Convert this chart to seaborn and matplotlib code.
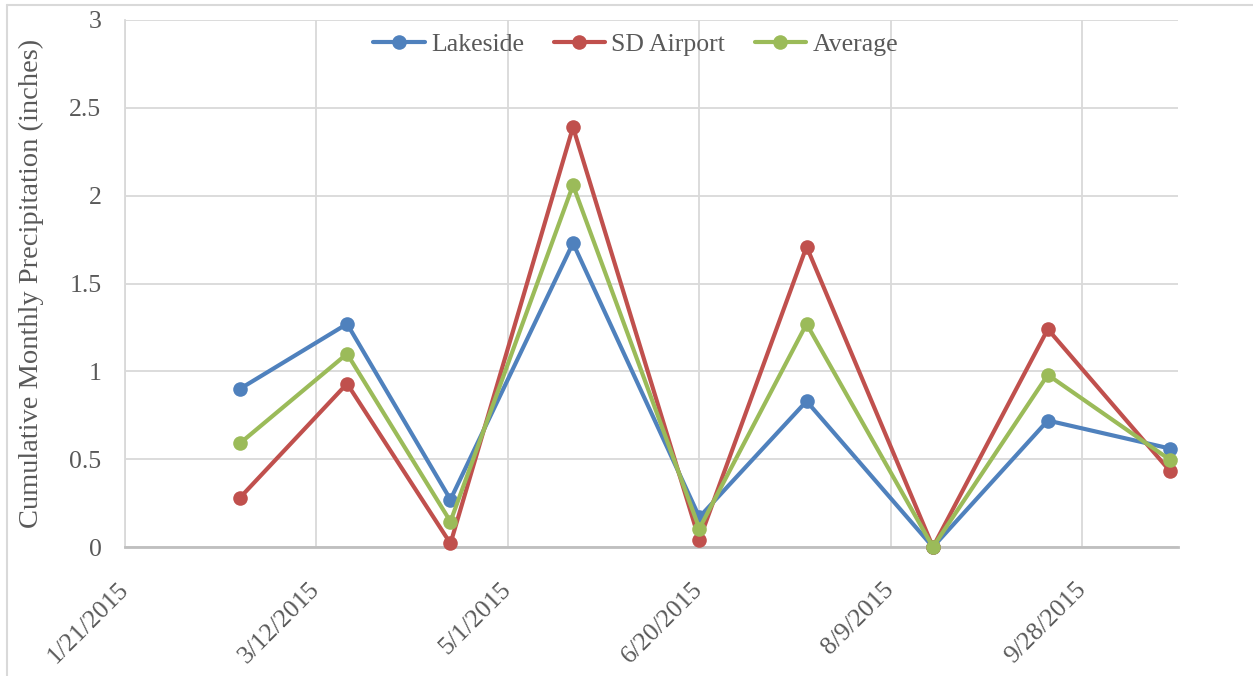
import numpy as np
import pandas as pd
import matplotlib
matplotlib.use("Agg")
import matplotlib.pyplot as plt
from matplotlib.lines import Line2D
import seaborn as sns

# Monthly observation dates
dates = ["2015-02-20", "2015-03-20", "2015-04-16", "2015-05-18", "2015-06-20",
         "2015-07-18", "2015-08-20", "2015-09-19", "2015-10-21"]
lakeside = [0.90, 1.27, 0.27, 1.73, 0.17, 0.83, 0.00, 0.72, 0.56]
sd_airport = [0.28, 0.93, 0.02, 2.39, 0.04, 1.71, 0.00, 1.24, 0.43]
average = [0.59, 1.10, 0.145, 2.06, 0.105, 1.27, 0.00, 0.98, 0.495]
series_names = ["Lakeside", "SD Airport", "Average"]
series_colors = ["#4F81BD", "#C0504D", "#9BBB59"]
x_ticks = ["2015-01-21", "2015-03-12", "2015-05-01", "2015-06-20", "2015-08-09", "2015-09-28"]
y_ticks = [0, 0.5, 1, 1.5, 2, 2.5, 3]
y_tick_labels = ["0", "0.5", "1", "1.5", "2", "2.5", "3"]

sns.set_theme(style="white")
plt.rcParams["font.family"] = ["Liberation Serif", "DejaVu Serif"]

text_color = "#595959"
fig = plt.figure(figsize=(12.53, 6.76), dpi=100)
W, H = 1253, 676
ax = fig.add_axes([125 / W, 1 - 547 / H, (1178 - 125) / W, (547 - 20) / H])

df = pd.DataFrame({
    "date": pd.to_datetime(dates * 3),
    "value": lakeside + sd_airport + average,
    "series": np.repeat(series_names, len(dates)),
})

for name, color in zip(series_names, series_colors):
    sub = df[df["series"] == name]
    sns.lineplot(data=sub, x="date", y="value", ax=ax, color=color, lw=3,
                 marker="o", markersize=10.5, markeredgewidth=0, label=name,
                 legend=False, zorder=3, clip_on=False)

ax.set_xlim(pd.Timestamp("2015-01-21"), pd.Timestamp("2015-10-23"))
ax.set_ylim(0, 3)
ax.set_xticks(pd.to_datetime(x_ticks))
ax.set_xticklabels([f"{d.month}/{d.day}/{d.year}" for d in pd.to_datetime(x_ticks)],
                   rotation=45, ha="right", va="center", rotation_mode="anchor")
ax.set_yticks(y_ticks)
ax.set_yticklabels(y_tick_labels)
ax.tick_params(axis="x", colors=text_color, labelsize=18.5, length=0, pad=28)
ax.tick_params(axis="y", colors=text_color, labelsize=18.5, length=0, pad=17)
ax.grid(True, color="#D9D9D9", lw=1.3)
ax.set_axisbelow(True)
for side in ["top", "right"]:
    ax.spines[side].set_visible(False)
ax.spines["left"].set_color("#D9D9D9")
ax.spines["left"].set_linewidth(1.3)
ax.spines["bottom"].set_color("#BFBFBF")
ax.spines["bottom"].set_linewidth(2)

ax.set_xlabel("")
ax.set_ylabel("Cumulative Monthly Precipitation (inches)", color=text_color,
              fontsize=20.5, labelpad=18)

handles = [Line2D([], [], color=c, lw=3, marker="o", markersize=10.5, markeredgewidth=0)
           for c in series_colors]
leg = ax.legend(handles, series_names, loc="center", bbox_to_anchor=(0.485, 0.954),
                ncol=3, frameon=False, fontsize=18.5, handlelength=2.0,
                handletextpad=0.25, columnspacing=1.15)
for t in leg.get_texts():
    t.set_color(text_color)

# Light frame edges along the top and left of the figure
fig.add_artist(Line2D([7 / W, 7 / W], [0, 1 - 5 / H], transform=fig.transFigure,
                      color="#D9D9D9", lw=1.5))
fig.add_artist(Line2D([7 / W, 1], [1 - 5 / H, 1 - 5 / H], transform=fig.transFigure,
                      color="#D9D9D9", lw=1.5))

fig.savefig("out.png", dpi=100, facecolor="white")
